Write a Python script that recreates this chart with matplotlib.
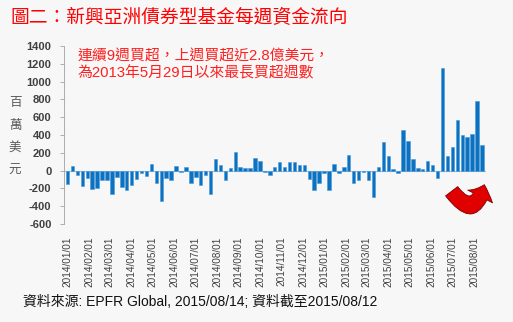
import matplotlib
matplotlib.use("Agg")
import matplotlib.pyplot as plt
import matplotlib.dates as mdates
from matplotlib.patches import FancyArrowPatch
import numpy as np
import pandas as pd

plt.rcParams['font.family'] = ['Liberation Sans', 'Noto Sans CJK TC', 'DejaVu Sans']

start_date = "2014-01-01"
end_date = "2015-08-12"
flows = [
    -145, 50, -55, -175, -80, -210, -200, -100, -100, -260,
    -70, -180, -220, -160, -90, -30, -60, 70, -140, -340,
    -85, -100, 55, -20, 40, -140, -70, -160, -50, -260,
    135, 65, -100, 30, 205, 40, 30, 25, 142, 112,
    -15, -45, 37, 93, 45, 100, 100, 60, 60, -93,
    -213, -140, -30, -220, 75, -25, 35, 172, -140, -110,
    -20, -100, -292, 35, 318, 165, 20, -30, 452, 336,
    130, 25, 15, 110, 65, -80, 1151, 160, 269, 572,
    396, 380, 410, 778, 284,
]
y_ticks = [-600, -400, -200, 0, 200, 400, 600, 800, 1000, 1200, 1400]
title = "圖二：新興亞洲債券型基金每週資金流向"
note_lines = ["連續9週買超，上週買超近2.8億美元，", "為2013年5月29日以來最長買超週數"]
ylabel_chars = ["百", "萬", "美", "元"]
source = "資料來源: EPFR Global, 2015/08/14; 資料截至2015/08/12"

dates = pd.date_range(start_date, end_date, freq="7D")

W, H = 513, 322
fig = plt.figure(figsize=(W / 100, H / 100), dpi=100, facecolor="#f7f7f7")
ax = fig.add_axes([64 / W, 1 - 224 / H, (485.5 - 64) / W, (224 - 46) / H])
ax.set_facecolor("#f7f7f7")

ax.axhline(0, color="#9cc3e4", lw=0.8, zorder=1)
ax.bar(dates, flows, width=4.9, color="#0a72c0", edgecolor="#4b98d6", linewidth=0.4, zorder=2)

ax.set_ylim(-600, 1400)
ax.set_yticks(y_ticks)
ax.set_yticklabels([str(v) for v in y_ticks], fontsize=8, fontweight="bold", color="#404040")
ax.set_xlim(pd.Timestamp("2013-12-27"), pd.Timestamp("2015-08-17"))
ax.xaxis.set_major_locator(mdates.MonthLocator())
ax.xaxis.set_major_formatter(mdates.DateFormatter("%Y/%m/%d"))
for lbl in ax.get_xticklabels():
    lbl.set_rotation(90)
    lbl.set_fontsize(7.2)
    lbl.set_color("#404040")
ax.tick_params(axis="x", length=0, pad=9)
ax.tick_params(axis="y", length=3, width=0.6, color="#a0a0a0", pad=6)
for s in ["top", "right", "bottom"]:
    ax.spines[s].set_visible(False)
ax.spines["left"].set_color("#a0a0a0")
ax.spines["left"].set_linewidth(0.6)

def fx(px):
    return px / W

def fy(py):
    return 1 - py / H

fig.text(fx(10), fy(18), title, fontsize=13.5, color="#ff0000", va="center", ha="left")
fig.text(fx(78), fy(55.5), note_lines[0], fontsize=10.7, color="#ff2020", va="center", ha="left")
fig.text(fx(78), fy(73.5), note_lines[1], fontsize=10.7, color="#ff2020", va="center", ha="left")
for i, ch in enumerate(ylabel_chars):
    fig.text(fx(15), fy(103 + 22.5 * i), ch, fontsize=9, color="#595959", va="center", ha="center")
fig.text(fx(23), fy(302), source, fontsize=10, color="#111111", va="center", ha="left")

arrow = FancyArrowPatch((450, H - 189), (485, H - 182), transform=None,
                        connectionstyle="arc3,rad=1.1",
                        arrowstyle="simple,head_width=20,head_length=9,tail_width=11",
                        facecolor="#e00000", edgecolor="#7a0000", linewidth=0.6, zorder=5)
fig.patches.append(arrow)

fig.savefig("out.png", dpi=100, facecolor=fig.get_facecolor())
